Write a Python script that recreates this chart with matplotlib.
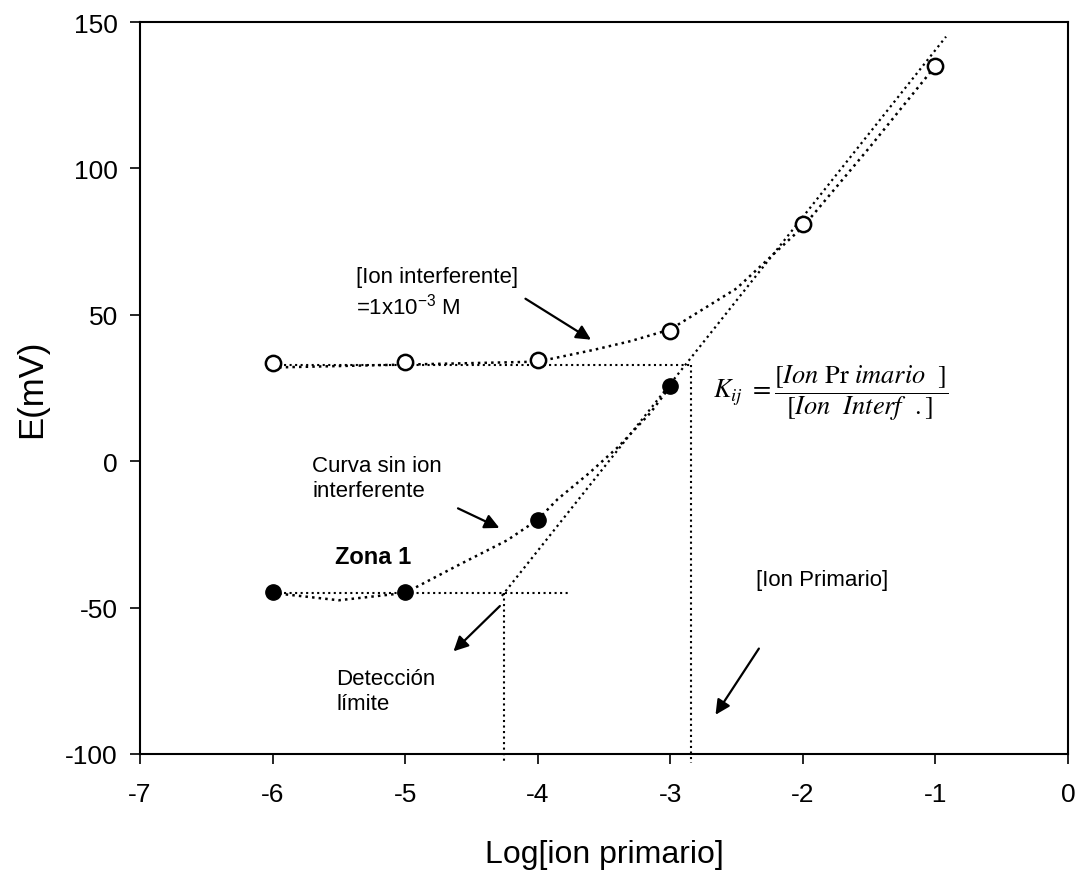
import matplotlib
matplotlib.use("Agg")
import matplotlib.pyplot as plt

plt.rcParams['font.family'] = ['Liberation Sans', 'DejaVu Sans']
plt.rcParams['mathtext.fontset'] = 'stix'
plt.rcParams['axes.unicode_minus'] = False

# puntos medidos
log_x = [-6, -5, -4, -3, -2, -1]
e_interf = [33.5, 34, 34.5, 44.5, 81, 135]      # con ion interferente
log_x_sin = [-6, -5, -4, -3]
e_sin = [-44.7, -44.7, -20, 25.6]                 # sin ion interferente

# curvas punteadas
curva_int_x = [-6, -5.5, -5, -4.5, -4, -3.58, -3.3, -3, -2.5, -2, -1.5, -1]
curva_int_y = [32, 32.5, 33, 33.5, 34, 38, 41, 45, 59, 80, 107, 135]
curva_sin_x = [-6, -5.5, -5, -4.62, -4.23, -4, -3.85, -3.61, -3.39, -3.15, -3]
curva_sin_y = [-45, -47.5, -45, -36, -27, -20, -13, -4, 5, 16.5, 25.6]

# recta nernstiana
recta_x = [-4.27, -0.92]
recta_y = [-46, 145]

# lineas de construccion
h_int_x, h_int_y = [-6, -2.845], [33, 33]
h_sin_x, h_sin_y = [-6, -3.75], [-45, -45]
v_lim_x, v_lim_y = [-4.255, -4.255], [-45, -103]
v_kij_x, v_kij_y = [-2.845, -2.845], [33, -103]

fig = plt.figure(figsize=(10.79, 8.79), dpi=100)
ax = fig.add_axes([0.1297, 0.1411, 0.8601, 0.8327])

ax.plot(curva_int_x, curva_int_y, ':', color='black', lw=1.8)
ax.plot(curva_sin_x, curva_sin_y, ':', color='black', lw=1.8)
ax.plot(recta_x, recta_y, ':', color='black', lw=1.6)
ax.plot(h_int_x, h_int_y, ':', color='black', lw=1.5)
ax.plot(h_sin_x, h_sin_y, ':', color='black', lw=1.5)
ax.plot(v_lim_x, v_lim_y, ':', color='black', lw=1.5, clip_on=False)
ax.plot(v_kij_x, v_kij_y, ':', color='black', lw=1.5, clip_on=False)

ax.plot(log_x, e_interf, 'o', ms=11, mfc='white', mec='black', mew=1.8, zorder=5)
ax.plot(log_x_sin, e_sin, 'o', ms=11, mfc='black', mec='black', zorder=5)

# flechas
flecha = dict(arrowstyle='-|>', color='black', lw=1.6, mutation_scale=22)
ax.annotate('', xy=(-3.58, 41), xytext=(-4.11, 56), arrowprops=flecha)
ax.annotate('', xy=(-4.27, -23.2), xytext=(-4.62, -15.7), arrowprops=flecha)
ax.annotate('', xy=(-4.65, -65.6), xytext=(-4.27, -48.8), arrowprops=flecha)
ax.annotate('', xy=(-2.67, -87.4), xytext=(-2.32, -63.2), arrowprops=flecha)

ax.text(-5.37, 57.7, '[Ion interferente]\n=1x10$\\mathregular{^{-3}}$ M',
        fontsize=16, ha='left', va='center', linespacing=1.25)
ax.text(-5.70, -5.8, 'Curva sin ion\ninterferente',
        fontsize=16, ha='left', va='center', linespacing=1.25)
ax.text(-5.53, -32.4, 'Zona 1', fontsize=17, fontweight='bold',
        ha='left', va='center')
ax.text(-5.52, -78.6, 'Detección\nlímite',
        fontsize=16, ha='left', va='center', linespacing=1.25)
ax.text(-2.35, -40.3, '[Ion Primario]',
        fontsize=16, ha='left', va='center')
ax.text(-2.68, 23.6,
        r'$K_{ij}\ =\dfrac{\left[Ion\ \mathrm{Pr}\ imario\ \ \right]}{\left[Ion\ \ Interf\ \ .\right]}$',
        fontsize=19, ha='left', va='center')

ax.set_xlim(-7, 0)
ax.set_ylim(-100, 150)
ax.set_xticks(range(-7, 1))
ax.set_yticks(range(-100, 151, 50))
ax.tick_params(labelsize=19, direction='out', length=7, width=1.2, pad=9)
ax.tick_params(axis='x', pad=13)
for s in ax.spines.values():
    s.set_linewidth(1.5)

ax.set_xlabel('Log[ion primario]', fontsize=23, labelpad=24)
ax.set_ylabel('E(mV)', fontsize=25, labelpad=12)

fig.savefig('out.png', dpi=100)
